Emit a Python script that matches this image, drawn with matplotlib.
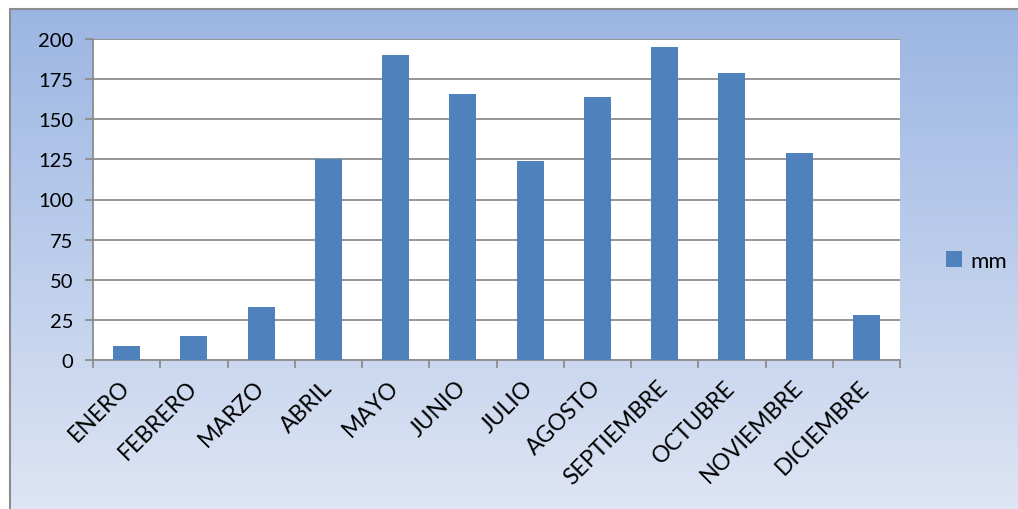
import numpy as np
import matplotlib.pyplot as plt
from matplotlib.patches import Rectangle

# data
months = ['ENERO', 'FEBRERO', 'MARZO', 'ABRIL', 'MAYO', 'JUNIO', 'JULIO',
          'AGOSTO', 'SEPTIEMBRE', 'OCTUBRE', 'NOVIEMBRE', 'DICIEMBRE']
mm = [9, 15, 33, 125, 190, 166, 124, 164, 195, 179, 129, 28]
yticks = [0, 25, 50, 75, 100, 125, 150, 175, 200]

plt.rcParams['font.family'] = ['Lato', 'DejaVu Sans']

W, H = 1018, 510
fig = plt.figure(figsize=(W / 100, H / 100), dpi=100)

# background gradient (chart area)
bg = fig.add_axes([10 / W, 0, 1 - 10 / W, (H - 10) / H], zorder=0)
top = np.array([155, 182, 227]) / 255
bot = np.array([222, 229, 244]) / 255
t = np.linspace(0, 1, 256)[:, None]
grad = top * (1 - t) + bot * t
bg.imshow(grad[:, None, :], aspect='auto', extent=[0, 1, 0, 1])
bg.set_xlim(0, 1)
bg.set_ylim(0, 1)
bg.axis('off')
fig.patches.append(Rectangle((10 / W, -0.1), 1.1, (H - 10) / H + 0.1,
                             transform=fig.transFigure, fill=False,
                             edgecolor='#8c8c8c', linewidth=1.5, zorder=5))

ax = fig.add_axes([93 / W, (H - 361) / H, (900 - 93) / W, (361 - 40) / H], zorder=1)
ax.set_facecolor('white')
x = np.arange(len(months))
ax.bar(x, mm, width=0.4, color='#4f81bd', label='mm', zorder=3)

ax.set_xlim(-0.5, len(months) - 0.5)
ax.set_ylim(0, 200)
ax.set_yticks(yticks)
ax.yaxis.grid(True, color='#8c8c8c', linewidth=1.3, zorder=1)
for s in ['top', 'right']:
    ax.spines[s].set_visible(False)
for s in ['left', 'bottom']:
    ax.spines[s].set_color('#8c8c8c')
    ax.spines[s].set_linewidth(1.3)

ax.set_xticks(np.arange(-0.5, len(months), 1))
ax.set_xticklabels([])
ax.set_xticks(x, minor=True)
ax.set_xticklabels(months, minor=True, rotation=45, ha='right', va='center',
                   rotation_mode='anchor', fontsize=16.5)
ax.tick_params(axis='x', which='major', length=6, width=1.3, color='#8c8c8c')
ax.tick_params(axis='x', which='minor', length=0, pad=17)
ax.tick_params(axis='y', length=6, width=1.3, color='#8c8c8c', labelsize=14.5, pad=8)

fig.legend(loc='center left', bbox_to_anchor=(926 / W, (H - 262) / H), frameon=False,
           fontsize=16, handlelength=0.7, handleheight=0.7, handletextpad=0.4)

fig.savefig('out.png', dpi=100)
